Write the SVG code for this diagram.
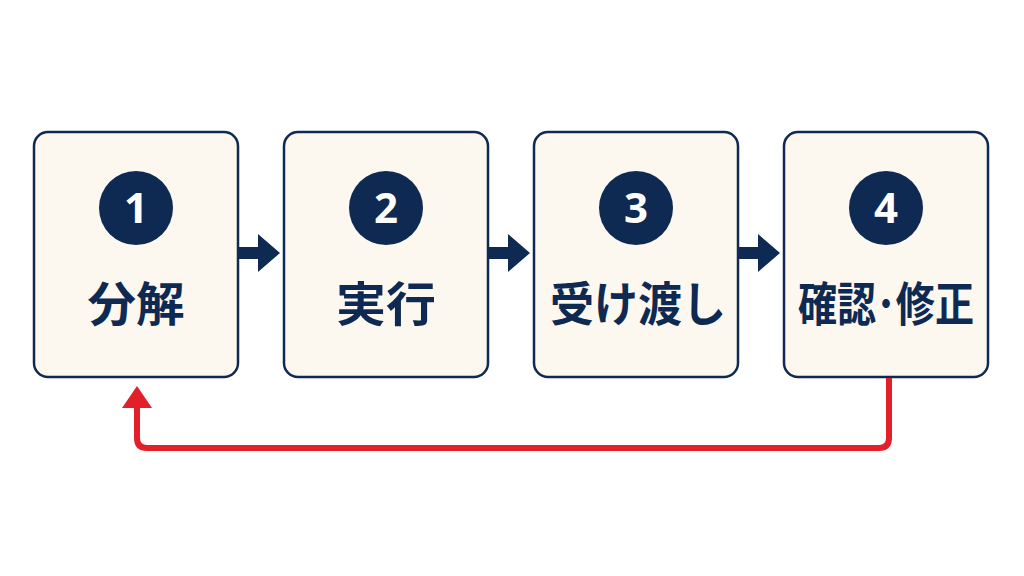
<svg xmlns="http://www.w3.org/2000/svg" width="1024" height="576" viewBox="0 0 1024 576">
<style>
.box{fill:#fcf8ef;stroke:#0e2a52;stroke-width:2.5}
.num{fill:#0e2a52}
.numt{fill:#ffffff;font-family:"Noto Sans","Liberation Sans",sans-serif;font-weight:700;font-size:42px;text-anchor:middle}
.lbl{fill:#0e2a52;font-family:"Noto Sans CJK JP","Noto Sans",sans-serif;font-weight:700;font-size:47px;text-anchor:middle}
.arr{fill:#0e2a52}
</style>
<rect width="1024" height="576" fill="#ffffff"/>
<g id="node1">
<rect class="box" x="34" y="132" width="204" height="245" rx="14"/>
<circle class="num" cx="136" cy="208" r="37"/>
<text class="numt" x="136" y="223">1</text>
<text class="lbl" x="136" y="321" textLength="97" lengthAdjust="spacingAndGlyphs">分解</text>
</g>
<g id="node2">
<rect class="box" x="284" y="132" width="204" height="245" rx="14"/>
<circle class="num" cx="386" cy="208" r="37"/>
<text class="numt" x="386" y="223">2</text>
<text class="lbl" x="386" y="321" textLength="100" lengthAdjust="spacingAndGlyphs">実行</text>
</g>
<g id="node3">
<rect class="box" x="534" y="132" width="204" height="245" rx="14"/>
<circle class="num" cx="636" cy="208" r="37"/>
<text class="numt" x="636" y="223">3</text>
<text class="lbl" x="638" y="321" textLength="176" lengthAdjust="spacingAndGlyphs">受け渡し</text>
</g>
<g id="node4">
<rect class="box" x="784" y="132" width="204" height="245" rx="14"/>
<circle class="num" cx="886" cy="208" r="37"/>
<text class="numt" x="886" y="223">4</text>
<text class="lbl" x="886" y="321" textLength="176" lengthAdjust="spacingAndGlyphs">確認･修正</text>
</g>
<g id="connectors">
<path class="arr" d="M239 247 H258 V234 L280 253 L258 272 V259 H239 Z"/>
<path class="arr" d="M489 247 H508 V234 L530 253 L508 272 V259 H489 Z"/>
<path class="arr" d="M739 247 H758 V234 L780 253 L758 272 V259 H739 Z"/>
<path d="M889 378 V438 Q889 448 879 448 H147 Q137 448 137 438 V405" fill="none" stroke="#e3202a" stroke-width="6"/>
<path d="M137 386 L152 408 H122 Z" fill="#e3202a"/>
</g>
</svg>
